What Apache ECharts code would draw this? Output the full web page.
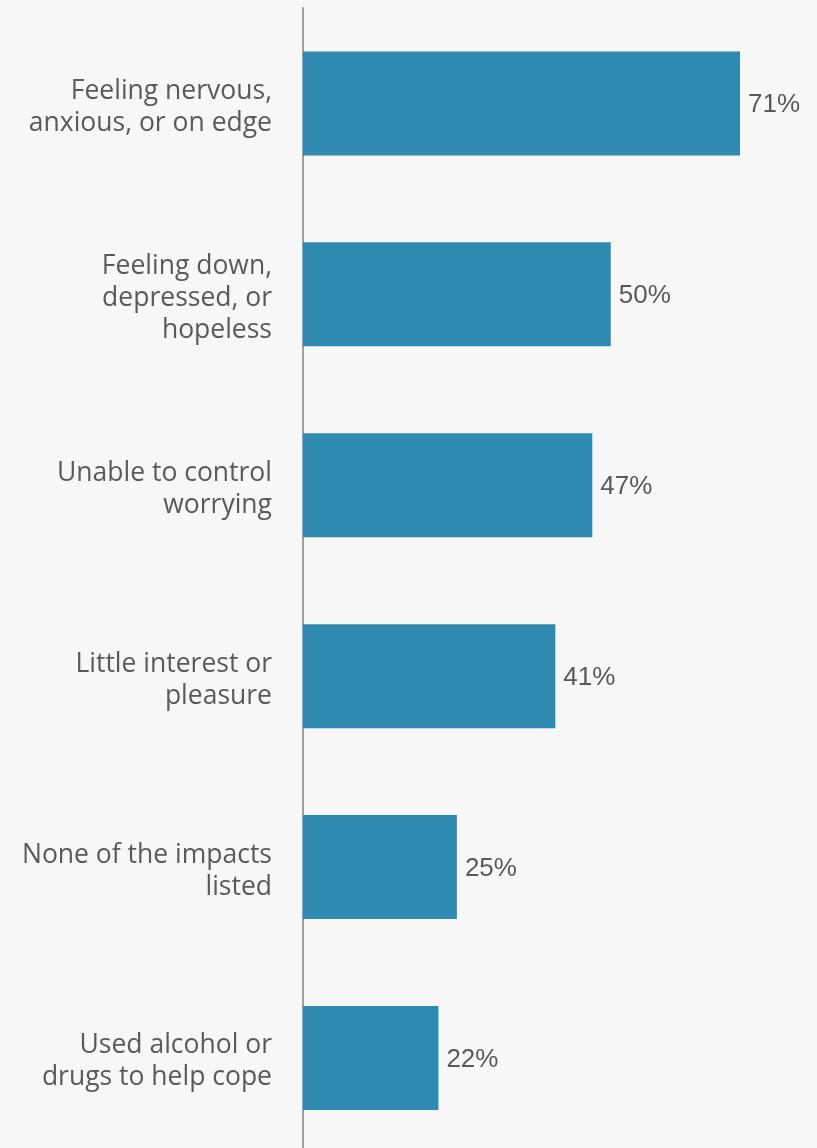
<!DOCTYPE html>
<html><head><meta charset="utf-8">
<script src="https://cdn.jsdelivr.net/npm/echarts@6/dist/echarts.min.js"></script>
<style>html,body{margin:0;padding:0;background:#f7f7f7;}#c{width:817px;height:1148px;}</style>
</head><body><div id="c"></div>
<script>
const categories = [
  "Feeling nervous,\nanxious, or on edge",
  "Feeling down,\ndepressed, or\nhopeless",
  "Unable to control\nworrying",
  "Little interest or\npleasure",
  "None of the impacts\nlisted",
  "Used alcohol or\ndrugs to help cope"
];
const values = [71, 50, 47, 41, 25, 22];

const chart = echarts.init(document.getElementById('c'), null, {renderer: 'canvas'});
chart.setOption({
  backgroundColor: '#f7f7f7',
  animation: false,
  grid: {left: 303, top: 8, width: 492.4, height: 1145.4, containLabel: false, outerBoundsMode: 'none'},
  xAxis: {type: 'value', min: 0, max: 80, show: false},
  yAxis: {
    type: 'category', data: categories, inverse: true,
    axisLine: {show: true, lineStyle: {color: '#a0a0a0', width: 2}},
    axisTick: {show: false},
    axisLabel: {
      margin: 31, fontFamily: 'Open Sans', fontSize: 26.5, color: '#5a5a5a', lineHeight: 32, align: 'right',
      formatter: v => '{s| }\n' + v,
      rich: {s: {fontSize: 6, lineHeight: 8, height: 8}}
    }
  },
  series: [{
    type: 'bar', data: values, barWidth: 104,
    itemStyle: {color: '#2e8ab0'},
    label: {
      show: true, position: 'right', distance: 8, formatter: '{s| }\n{c}%',
      fontFamily: 'Liberation Sans', fontSize: 26, lineHeight: 30, color: '#595959',
      rich: {s: {fontSize: 3, lineHeight: 3, height: 3}}
    }
  }]
});
</script></body></html>
